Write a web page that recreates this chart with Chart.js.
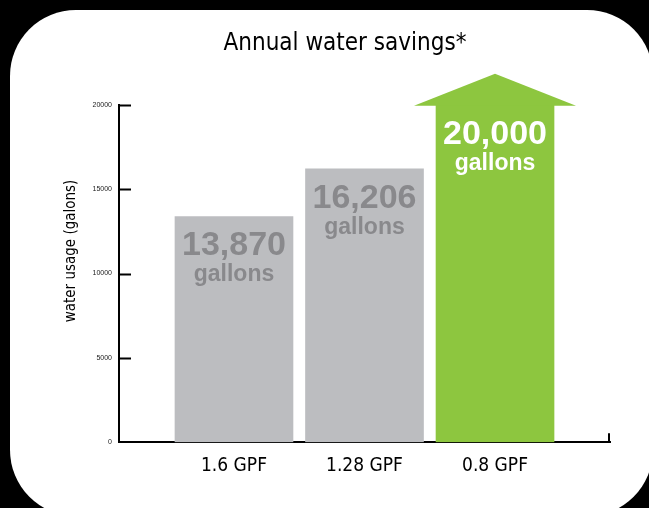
<!DOCTYPE html>
<html>
<head>
<meta charset="utf-8">
<script src="https://cdn.jsdelivr.net/npm/chart.js@4.4.1/dist/chart.umd.min.js"></script>
<style>
  html, body { margin: 0; padding: 0; background: #000; }
  #card {
    position: absolute; left: 10px; top: 10px;
    width: 643px; height: 506px;
    background: #fff; border-radius: 66px;
  }
  #chart { position: absolute; left: 0; top: 0; }
</style>
</head>
<body>
<div id="card"></div>
<canvas id="chart" width="649" height="508"></canvas>
<script>
// chart data
const categories = ["1.6 GPF", "1.28 GPF", "0.8 GPF"];
const barValues = [13380, 16206, 20000];   // bar heights as drawn
const valueLabels = ["13,870", "16,206", "20,000"];
const unitLabel = "gallons";
const yTicks = [0, 5000, 10000, 15000, 20000];

const barColors = ["#bcbdc0", "#bcbdc0", "#8dc63f"];
const textColors = ["#89898c", "#89898c", "#ffffff"];

const narrow = "'Liberation Sans Narrow', 'DejaVu Sans Condensed', 'Arial Narrow', sans-serif";
const bold = "'Liberation Sans', Arial, Helvetica, sans-serif";

// inward ticks, arrow head, labels in bars, y axis title
const decorations = {
  id: "decorations",
  afterDatasetsDraw(chart) {
    const ctx = chart.ctx;
    const bars = chart.getDatasetMeta(0).data;

    // arrow head on the last bar
    const last = bars[bars.length - 1];
    const half = last.width / 2 + 22;
    ctx.save();
    ctx.fillStyle = barColors[barColors.length - 1];
    ctx.beginPath();
    ctx.moveTo(last.x - half, last.y + 1);
    ctx.lineTo(last.x, last.y - 31);
    ctx.lineTo(last.x + half, last.y + 1);
    ctx.closePath();
    ctx.fill();

    // value text inside bars
    ctx.textAlign = "center";
    ctx.textBaseline = "alphabetic";
    bars.forEach((bar, i) => {
      ctx.fillStyle = textColors[i];
      ctx.font = "bold 34px " + bold;
      ctx.fillText(valueLabels[i], bar.x, bar.y + 39);
      ctx.font = "bold 23px " + bold;
      ctx.fillText(unitLabel, bar.x, bar.y + 65);
    });
    ctx.restore();
  },
  afterDraw(chart) {
    const ctx = chart.ctx;
    const y = chart.scales.y;
    const area = chart.chartArea;
    ctx.save();
    ctx.strokeStyle = "#000";
    ctx.lineWidth = 2;
    yTicks.forEach(v => {
      if (v === 0) return;
      const py = Math.round(y.getPixelForValue(v)) + 0.5;
      ctx.beginPath();
      ctx.moveTo(area.left, py);
      ctx.lineTo(area.left + 12, py);
      ctx.stroke();
    });
    ctx.beginPath();
    ctx.moveTo(area.right - 1, area.bottom);
    ctx.lineTo(area.right - 1, area.bottom - 9);
    ctx.stroke();

    // y axis title
    ctx.translate(71, 251);
    ctx.rotate(-Math.PI / 2);
    ctx.fillStyle = "#000";
    ctx.font = "15px " + narrow;
    ctx.textAlign = "center";
    ctx.textBaseline = "middle";
    ctx.fillText("water usage (galons)", 0, 0);
    ctx.restore();
  }
};

new Chart(document.getElementById("chart"), {
  type: "bar",
  data: {
    datasets: [{
      data: barValues.map((v, i) => ({ x: i, y: v })),
      backgroundColor: barColors,
      barThickness: 118
    }]
  },
  options: {
    responsive: false,
    animation: false,
    layout: { padding: { left: 80, right: 39, top: 0, bottom: 19 } },
    plugins: {
      legend: { display: false },
      tooltip: { enabled: false },
      title: {
        display: true,
        text: "Annual water savings*",
        color: "#000",
        font: { family: narrow, size: 24, weight: "normal" },
        padding: { top: 29, bottom: 47 }
      }
    },
    scales: {
      x: {
        type: "linear",
        bounds: "data",
        offset: false,
        min: -0.881,
        max: 2.881,
        z: 1,
        grid: { display: false, drawTicks: false },
        border: { display: true, color: "#000", width: 2 },
        afterBuildTicks: scale => {
          scale.ticks = categories.map((c, i) => ({ value: i }));
        },
        ticks: {
          padding: 12,
          color: "#000",
          font: { family: narrow, size: 19 },
          callback: v => categories[v] ?? ""
        }
      },
      y: {
        min: 0,
        max: 20000,
        z: 1,
        afterFit: scale => { scale.width = 39; },
        grid: { display: false, drawTicks: false },
        border: { display: true, color: "#000", width: 2 },
        afterBuildTicks: scale => {
          scale.ticks = yTicks.map(v => ({ value: v }));
        },
        ticks: {
          padding: 7,
          color: "#222",
          font: { family: bold, size: 7 },
          callback: v => String(v)
        }
      }
    }
  },
  plugins: [decorations]
});
</script>
</body>
</html>
